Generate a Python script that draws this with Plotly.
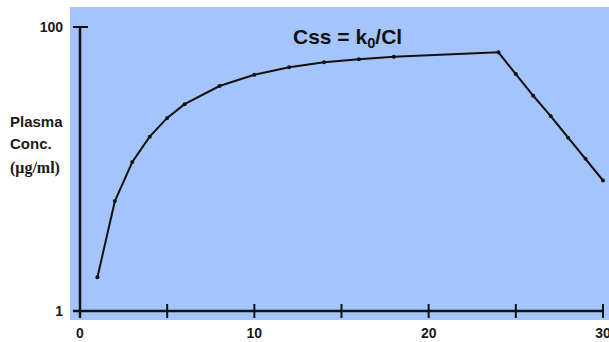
import plotly.graph_objects as go

time_h = [1, 2, 3, 4, 5, 6, 8, 10, 12, 14, 16, 18, 24, 25, 26, 27, 28, 29, 30]
conc = [1.73, 5.95, 11.2, 16.9, 22.9, 28.6, 38.4, 46.1, 52.0, 56.4, 59.2, 61.8,
        66.3, 46.7, 32.8, 23.6, 16.6, 11.8, 8.3]
x_ticks = [0, 5, 10, 15, 20, 25, 30]
x_tick_labels = ["0", "", "10", "", "20", "", "30"]
y_ticks = [1, 100]
y_tick_labels = ["1", "100"]
y_title_lines = ["Plasma", "Conc.", "(μg/ml)"]

BLUE = "#a3c5fb"
INK = "#111111"
TICK_FONT = dict(family="Liberation Sans", size=14, color="#1a1a1a", weight=700)

W, H = 609, 342
ML, MR, MT, MB = 70, 0, 7, 22
PW, PH = W - ML - MR, H - MT - MB


def px(xp):
    return (xp - ML) / PW


def py(yp):
    return 1 - (yp - MT) / PH


fig = go.Figure()
fig.add_trace(go.Scatter(
    x=time_h, y=conc, mode="lines+markers",
    line=dict(color=INK, width=2),
    marker=dict(color=INK, size=4),
    showlegend=False, hoverinfo="skip", cliponaxis=False,
))

shapes = []
shapes.append(dict(type="line", xref="paper", yref="y",
                   x0=px(73), x1=px(604), y0=y_ticks[0], y1=y_ticks[0],
                   line=dict(color=INK, width=2.5)))
shapes.append(dict(type="line", xref="x", yref="paper",
                   x0=x_ticks[0], x1=x_ticks[0], y0=py(318), y1=py(27),
                   line=dict(color=INK, width=2.5)))
for t in x_ticks:
    shapes.append(dict(type="line", xref="x", yref="paper",
                       x0=t, x1=t, y0=py(318), y1=py(304),
                       line=dict(color=INK, width=2)))
for v in y_ticks:
    shapes.append(dict(type="line", xref="paper", yref="y",
                       x0=px(73), x1=px(88), y0=v, y1=v,
                       line=dict(color=INK, width=2)))

fig.update_layout(
    width=W, height=H,
    margin=dict(l=ML, r=MR, t=MT, b=MB, autoexpand=False),
    paper_bgcolor="white", plot_bgcolor=BLUE,
    shapes=shapes,
    xaxis=dict(range=[-10 / 17.43, 30 + 6 / 17.43], showgrid=False, zeroline=False,
               showline=False, automargin=False,
               tickmode="array", tickvals=x_ticks, ticktext=x_tick_labels,
               ticks="", tickfont=TICK_FONT, ticklabelstandoff=3,
               ticklabeloverflow="allow"),
    yaxis=dict(type="log", range=[-0.0634, 2.141], showgrid=False, zeroline=False,
               showline=False, automargin=False,
               tickmode="array", tickvals=y_ticks, ticktext=y_tick_labels,
               ticks="", tickfont=TICK_FONT, ticklabelstandoff=6,
               ticklabeloverflow="allow"),
    font=dict(family="Liberation Sans"),
)

line_y = [121, 143, 168]
line_fonts = [
    dict(family="Liberation Sans", size=15, color="#1a1a1a", weight=700),
    dict(family="Liberation Sans", size=15, color="#1a1a1a", weight=700),
    dict(family="Liberation Serif", size=16, color="#1a1a1a", weight=700),
]
for txt, yy, fnt in zip(y_title_lines, line_y, line_fonts):
    fig.add_annotation(
        xref="paper", yref="paper", x=px(8), y=py(yy),
        xanchor="left", yanchor="middle", align="left", showarrow=False,
        text=txt, font=fnt,
    )
fig.add_annotation(
    xref="paper", yref="paper", x=px(347), y=py(38),
    xanchor="center", yanchor="middle", showarrow=False,
    text="<b>Css = k<sub>0</sub>/Cl</b>",
    font=dict(family="Liberation Sans", size=21, color=INK),
)

fig.write_html("out.html")
